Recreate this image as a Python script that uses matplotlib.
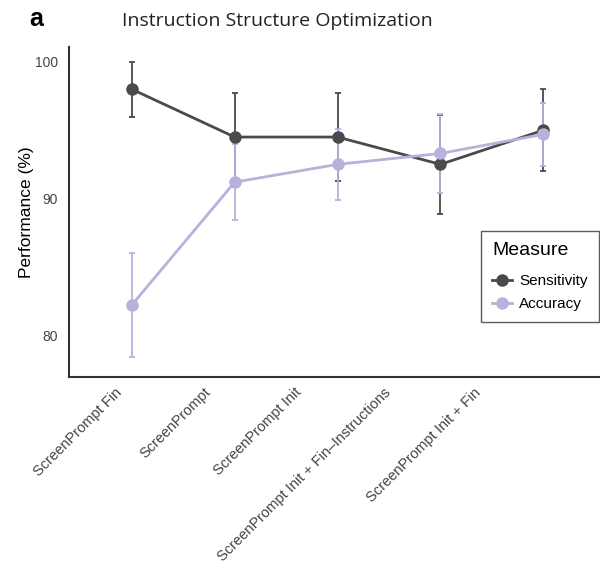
import numpy as np
import matplotlib
matplotlib.use("Agg")
import matplotlib.pyplot as plt

conditions = ["ScreenPrompt Fin", "ScreenPrompt", "ScreenPrompt Init",
              "ScreenPrompt Init + Fin\u2013Instructions", "ScreenPrompt Init + Fin"]
sens_mean = [98.0, 94.5, 94.5, 92.5, 95.0]
sens_err = [2.0, 3.2, 3.2, 3.6, 3.0]
acc_mean = [82.2, 91.2, 92.5, 93.3, 94.7]
acc_err = [3.8, 2.8, 2.6, 2.9, 2.3]

sens_color = "#4a4a4a"
acc_color = "#b7b1dc"

plt.rcParams['font.family'] = ['Liberation Sans', 'DejaVu Sans']

fig = plt.figure(figsize=(6.0, 5.86), dpi=100)
ax = fig.add_axes([0.115, 0.357, 0.885, 0.563])

x = np.arange(1, len(conditions) + 1)
# error bars first, then the lines with markers on top
ax.errorbar(x, sens_mean, yerr=sens_err, color=sens_color, fmt='none',
            elinewidth=1.3, capsize=2.5, capthick=1.3, zorder=2)
ax.errorbar(x, acc_mean, yerr=acc_err, color=acc_color, fmt='none',
            elinewidth=1.3, capsize=2.5, capthick=1.3, zorder=2)
ax.plot(x, sens_mean, 'o-', color=sens_color, lw=2.0, ms=8, label="Sensitivity", zorder=3)
ax.plot(x, acc_mean, 'o-', color=acc_color, lw=2.0, ms=8, label="Accuracy", zorder=4)

ax.set_xlim(0.39, 5.55)
ax.set_ylim(76.95, 101.1)
ax.set_yticks([80, 90, 100])
# in the original the rotated labels drift left a little more for each category
label_pos = x - 0.17 - 0.127 * (x - 1)
ax.set_xticks(label_pos)
ax.set_xticklabels(conditions, rotation=45, ha='right', rotation_mode='anchor',
                   fontsize=10.5, color='#444444')
ax.tick_params(axis='y', labelsize=10, labelcolor='#444444', length=0, pad=8)
ax.tick_params(axis='x', length=0, pad=6)
ax.spines['top'].set_visible(False)
ax.spines['right'].set_visible(False)
for s in ['left', 'bottom']:
    ax.spines[s].set_color('#333333')
    ax.spines[s].set_linewidth(1.5)
ax.set_ylabel("Performance (%)", fontsize=12.5, labelpad=0.5)

leg = ax.legend(title="Measure", loc='upper left', bbox_to_anchor=(0.802, 0.606),
                bbox_transform=fig.transFigure, borderaxespad=0, fontsize=11,
                title_fontsize=14, frameon=True, fancybox=False,
                handlelength=1.3, handletextpad=0.5, borderpad=0.7, labelspacing=0.6)
leg.get_frame().set_edgecolor('#333333')
leg.get_frame().set_linewidth(1.0)
leg._legend_box.align = "left"
leg._legend_box.sep = 11

fig.text(0.203, 0.965, "Instruction Structure Optimization", fontsize=14,
         family=['Open Sans', 'DejaVu Sans'], color='#222222', ha='left', va='center')
fig.text(0.048, 0.967, "a", fontsize=18, fontweight='bold', ha='left', va='center')

fig.savefig("out.png", dpi=100)
